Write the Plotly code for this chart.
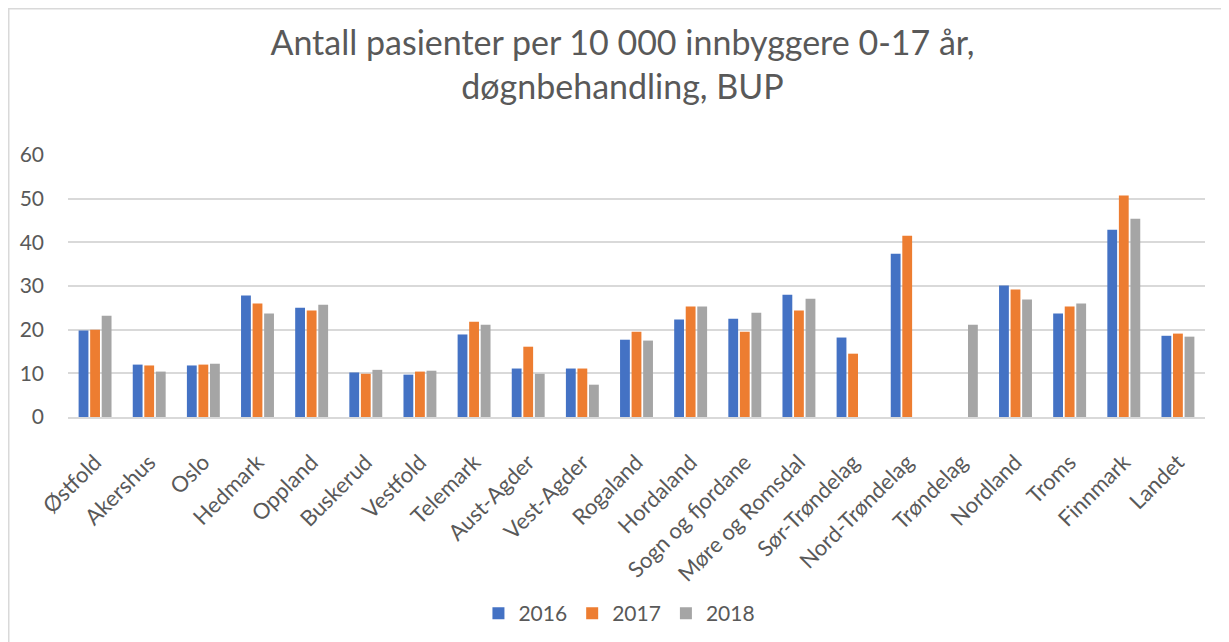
import plotly.graph_objects as go

categories = ["Østfold", "Akershus", "Oslo", "Hedmark", "Oppland", "Buskerud", "Vestfold",
              "Telemark", "Aust-Agder", "Vest-Agder", "Rogaland", "Hordaland", "Sogn og fjordane",
              "Møre og Romsdal", "Sør-Trøndelag", "Nord-Trøndelag", "Trøndelag", "Nordland",
              "Troms", "Finnmark", "Landet"]
v2016 = [19.8, 12.0, 11.8, 27.8, 25.0, 10.2, 9.7, 18.9, 11.1, 11.1, 17.7, 22.3, 22.5, 28.0,
         18.2, 37.4, None, 30.1, 23.7, 42.9, 18.6]
v2017 = [20.0, 11.8, 12.0, 26.0, 24.4, 9.9, 10.4, 21.8, 16.1, 11.1, 19.5, 25.3, 19.5, 24.4,
         14.5, 41.5, None, 29.2, 25.3, 50.7, 19.1]
v2018 = [23.2, 10.4, 12.2, 23.7, 25.7, 10.8, 10.6, 21.1, 9.9, 7.4, 17.5, 25.3, 23.9, 27.1,
         None, None, 21.1, 26.9, 26.0, 45.4, 18.4]
series_names = ["2016", "2017", "2018"]
colors = ["#4472C4", "#ED7D31", "#A5A5A5"]
title_text = "Antall pasienter per 10 000 innbyggere 0-17 år,<br>døgnbehandling, BUP"

FONT = "Lato, 'Open Sans', sans-serif"
TXT = "#595959"

fig = go.Figure()
for name, vals, col in zip(series_names, [v2016, v2017, v2018], colors):
    fig.add_trace(go.Bar(x=categories, y=vals, name=name, marker=dict(color=col, line=dict(width=0))))

fig.update_layout(
    width=1229, height=642,
    margin=dict(l=60, r=32, t=147, b=233, autoexpand=False),
    paper_bgcolor="white", plot_bgcolor="white",
    barmode="group", bargap=0.36, bargroupgap=0.15,
    font=dict(family=FONT, color=TXT),
    title=dict(text=title_text, x=0.5, xanchor="center", y=0.927, yanchor="top",
               font=dict(family=FONT, size=34, color=TXT)),
    legend=dict(orientation="h", x=0.485, xanchor="center", y=-0.75, yanchor="middle",
                font=dict(size=21, color=TXT), itemwidth=30, traceorder="normal"),
    showlegend=True,
)
fig.update_yaxes(range=[0, 60], dtick=10, showgrid=True, gridcolor="#D9D9D9", gridwidth=1.5,
                 zeroline=False, showline=False, tickfont=dict(size=21, color=TXT),
                 ticklabelstandoff=23, automargin=False)
fig.update_xaxes(showline=True, linecolor="#D9D9D9", linewidth=1.5, tickangle=-45,
                 tickfont=dict(size=22, color=TXT), ticklabelstandoff=22, automargin=False)
fig.add_shape(type="rect", xref="paper", yref="paper",
              x0=(0.75 - 60) / 1137, x1=1.2, y0=-1.2, y1=(409 - 0.75) / 262,
              line=dict(color="#D9D9D9", width=1.5), fillcolor="rgba(0,0,0,0)", layer="below")
fig.write_html("out.html")
